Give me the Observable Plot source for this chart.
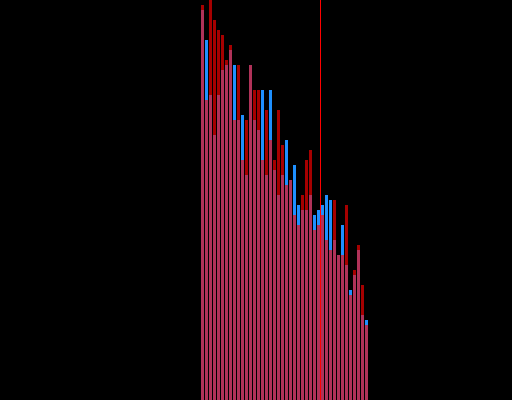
<!DOCTYPE html>
<html>
<head>
<meta charset="utf-8">
<script src="https://cdn.jsdelivr.net/npm/d3@7"></script>
<script src="https://cdn.jsdelivr.net/npm/@observablehq/plot@0.6"></script>
<style>
  html, body { margin: 0; padding: 0; background: #000; }
</style>
</head>
<body>
<script>
const bins = [0,1,2,3,4,5,6,7,8,9,10,11,12,13,14,15,16,17,18,19,20,21,22,23,24,25,26,27,28,29,30,31,32,33,34,35,36,37,38,39,40,41];
const blueValues = [78,72,61,53,61,66,67,70,67,56,57,45,67,56,54,62,45,62,46,41,45,52,44,47,39,38,38,41,37,38,39,41,40,32,29,35,27,22,25,30,17,16];
const redValues  = [79,60,80,76,74,73,68,71,56,67,48,56,67,62,62,48,58,52,48,58,51,43,44,37,35,41,48,50,34,35,37,32,30,40,29,29,39,21,26,31,23,15];
const markerBin = [30];

const blue = bins.map((b, i) => ({x1: b, x2: b + 1, y: blueValues[i]}));
const red = bins.map((b, i) => ({x1: b, x2: b + 1, y: redValues[i]}));

const chart = Plot.plot({
  width: 512,
  height: 400,
  margin: 0,
  style: {background: "#000"},
  x: {type: "linear", domain: [0, 42], range: [200, 368], axis: null},
  y: {domain: [0, 80], range: [400, 0], axis: null},
  marks: [
    Plot.rectY(blue, {x1: "x1", x2: "x2", y: "y", fill: "#1e90ff", insetLeft: 1, insetRight: 0}),
    Plot.rectY(red, {x1: "x1", x2: "x2", y: "y", fill: "#ff0000", fillOpacity: 0.65, insetLeft: 1, insetRight: 0}),
    Plot.ruleX(markerBin, {stroke: "#ff0000", strokeWidth: 1})
  ]
});
document.body.appendChild(chart);
</script>
</body>
</html>
